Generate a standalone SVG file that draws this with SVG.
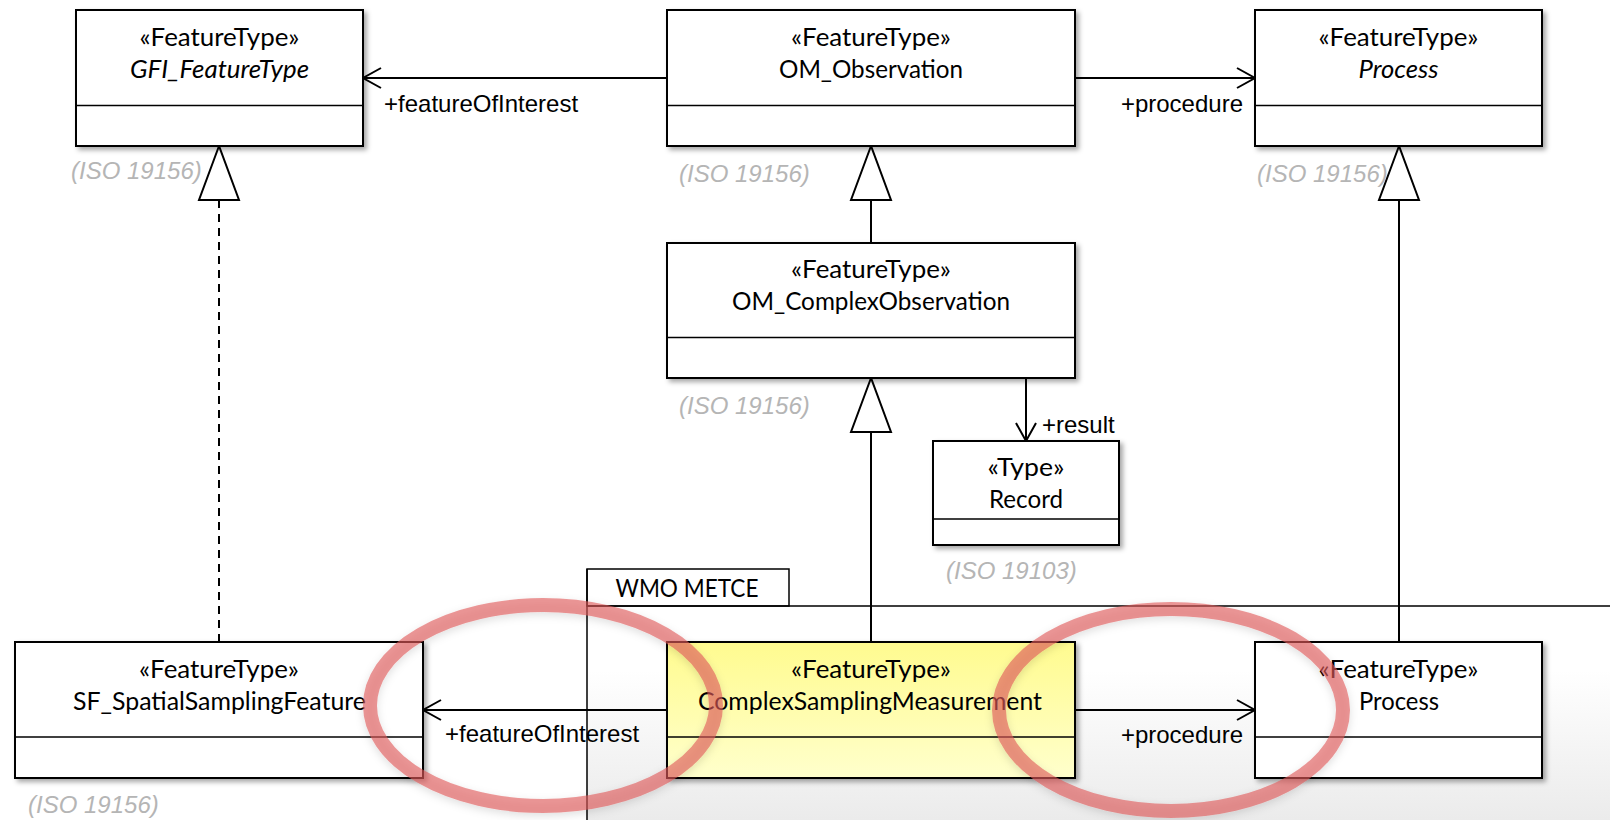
<svg xmlns="http://www.w3.org/2000/svg" width="1610" height="820" viewBox="0 0 1610 820">
<style>
.box{fill:#fff;stroke:#000;stroke-width:2}
.hl{fill:url(#yel);stroke:#000;stroke-width:2}
.div{stroke:#000;stroke-width:1.5}
.cls{font-family:Lato,"Liberation Sans",sans-serif;font-size:25px;text-anchor:middle;fill:#000}
.it{font-style:italic}
.lbl{font-family:"Liberation Sans",Arial,sans-serif;font-size:24px;fill:#000}
.end{text-anchor:end}
.iso{font-family:"Liberation Sans",Arial,sans-serif;font-size:24px;font-style:italic;fill:#b5b5b5}
.ln{stroke:#000;stroke-width:2;fill:none}
.dash{stroke-dasharray:8 6}
.pk{stroke:#000;stroke-width:1.5;fill:none}
.ell{fill:none;stroke:#e05a5a;stroke-opacity:0.62;stroke-width:14}
</style>
<defs>
<linearGradient id="yel" x1="0" y1="0" x2="0" y2="1">
<stop offset="0" stop-color="#fffb8f"/>
<stop offset="1" stop-color="#ffffcc"/>
</linearGradient>
<linearGradient id="pkbg" gradientUnits="userSpaceOnUse" x1="0" y1="606" x2="0" y2="820">
<stop offset="0" stop-color="#ffffff"/>
<stop offset="0.3" stop-color="#ffffff"/>
<stop offset="1" stop-color="#ebebeb"/>
</linearGradient>
<filter id="sh" x="-5%" y="-5%" width="115%" height="120%">
<feDropShadow dx="3" dy="3" stdDeviation="2.5" flood-color="#000" flood-opacity="0.35"/>
</filter>
<filter id="esh" x="-10%" y="-10%" width="120%" height="130%">
<feDropShadow dx="0" dy="3" stdDeviation="4" flood-color="#000" flood-opacity="0.2"/>
</filter>
<marker id="open" markerUnits="userSpaceOnUse" markerWidth="24" markerHeight="24" viewBox="-20 -12 24 24" refX="0" refY="0" orient="auto" overflow="visible">
<path d="M-18,-10 L0,0 L-18,10" fill="none" stroke="#000" stroke-width="2"/>
</marker>
<marker id="gen" markerUnits="userSpaceOnUse" markerWidth="60" markerHeight="44" viewBox="-56 -22 60 44" refX="0" refY="0" orient="auto" overflow="visible">
<path d="M0,0 L-54,-20 L-54,20 Z" fill="#fff" stroke="#000" stroke-width="2" stroke-dasharray="none"/>
</marker>
</defs>

<g id="package">
<rect x="587" y="606" width="1030" height="220" fill="url(#pkbg)"/>
<rect x="587" y="569" width="202" height="37" fill="#fff" class="pk"/>
<path class="pk" d="M587,569 V826 M587,606 H1615"/>
<text class="cls" x="687" y="597" textLength="143" lengthAdjust="spacingAndGlyphs">WMO METCE</text>
</g>

<g id="connectors">
<path class="ln" d="M667,78 H363" marker-end="url(#open)"/>
<text class="lbl" x="384" y="112">+featureOfInterest</text>
<path class="ln" d="M1075,78 H1255" marker-end="url(#open)"/>
<text class="lbl end" x="1243" y="112">+procedure</text>
<path class="ln" d="M871,243 V146" marker-end="url(#gen)"/>
<path class="ln" d="M871,642 V378" marker-end="url(#gen)"/>
<path class="ln" d="M1026,378 V441" marker-end="url(#open)"/>
<text class="lbl" x="1042" y="433">+result</text>
<path class="ln dash" d="M219,642 V146" marker-end="url(#gen)"/>
<path class="ln" d="M1399,642 V146" marker-end="url(#gen)"/>
<path class="ln" d="M667,710 H423" marker-end="url(#open)"/>
<text class="lbl" x="445" y="742">+featureOfInterest</text>
<path class="ln" d="M1075,710 H1255" marker-end="url(#open)"/>
<text class="lbl end" x="1243" y="743">+procedure</text>
</g>

<g id="gfi_featuretype">
<rect class="box" x="76" y="10" width="287" height="136" filter="url(#sh)"/>
<line class="div" x1="76" y1="105.5" x2="363" y2="105.5"/>
<text class="cls" x="219.5" y="46" textLength="160" lengthAdjust="spacingAndGlyphs">«FeatureType»</text>
<text class="cls it" x="219.5" y="78" textLength="179" lengthAdjust="spacingAndGlyphs">GFI_FeatureType</text>
<text class="iso" x="71" y="179">(ISO 19156)</text>
</g>

<g id="om_observation">
<rect class="box" x="667" y="10" width="408" height="136" filter="url(#sh)"/>
<line class="div" x1="667" y1="105.5" x2="1075" y2="105.5"/>
<text class="cls" x="871" y="46" textLength="160" lengthAdjust="spacingAndGlyphs">«FeatureType»</text>
<text class="cls" x="871" y="78" textLength="184" lengthAdjust="spacingAndGlyphs">OM_Observation</text>
<text class="iso" x="679" y="182">(ISO 19156)</text>
</g>

<g id="process_iso">
<rect class="box" x="1255" y="10" width="287" height="136" filter="url(#sh)"/>
<line class="div" x1="1255" y1="105.5" x2="1542" y2="105.5"/>
<text class="cls" x="1398.5" y="46" textLength="160" lengthAdjust="spacingAndGlyphs">«FeatureType»</text>
<text class="cls it" x="1398.5" y="78" textLength="80" lengthAdjust="spacingAndGlyphs">Process</text>
<text class="iso" x="1257" y="182">(ISO 19156)</text>
</g>

<g id="om_complexobservation">
<rect class="box" x="667" y="243" width="408" height="135" filter="url(#sh)"/>
<line class="div" x1="667" y1="337.5" x2="1075" y2="337.5"/>
<text class="cls" x="871" y="278" textLength="160" lengthAdjust="spacingAndGlyphs">«FeatureType»</text>
<text class="cls" x="871" y="310" textLength="278" lengthAdjust="spacingAndGlyphs">OM_ComplexObservation</text>
<text class="iso" x="679" y="414">(ISO 19156)</text>
</g>

<g id="record">
<rect class="box" x="933" y="441" width="186" height="104" filter="url(#sh)"/>
<line class="div" x1="933" y1="519" x2="1119" y2="519"/>
<text class="cls" x="1026" y="476" textLength="77" lengthAdjust="spacingAndGlyphs">«Type»</text>
<text class="cls" x="1026" y="508" textLength="74" lengthAdjust="spacingAndGlyphs">Record</text>
<text class="iso" x="946" y="579">(ISO 19103)</text>
</g>

<g id="sf_spatialsamplingfeature">
<rect class="box" x="15" y="642" width="408" height="136" filter="url(#sh)"/>
<line class="div" x1="15" y1="737" x2="423" y2="737"/>
<text class="cls" x="219" y="678" textLength="160" lengthAdjust="spacingAndGlyphs">«FeatureType»</text>
<text class="cls" x="219.5" y="710" textLength="293" lengthAdjust="spacingAndGlyphs">SF_SpatialSamplingFeature</text>
<text class="iso" x="28" y="813">(ISO 19156)</text>
</g>

<g id="complexsamplingmeasurement">
<rect class="hl" x="667" y="642" width="408" height="136" filter="url(#sh)"/>
<line class="div" x1="667" y1="737" x2="1075" y2="737"/>
<text class="cls" x="871" y="678" textLength="160" lengthAdjust="spacingAndGlyphs">«FeatureType»</text>
<text class="cls" x="870" y="710" textLength="344" lengthAdjust="spacingAndGlyphs">ComplexSamplingMeasurement</text>
</g>

<g id="process_metce">
<rect class="box" x="1255" y="642" width="287" height="136" filter="url(#sh)"/>
<line class="div" x1="1255" y1="737" x2="1542" y2="737"/>
<text class="cls" x="1398.5" y="678" textLength="160" lengthAdjust="spacingAndGlyphs">«FeatureType»</text>
<text class="cls" x="1399" y="710" textLength="80" lengthAdjust="spacingAndGlyphs">Process</text>
</g>

<g id="highlights" filter="url(#esh)">
<ellipse class="ell" cx="543" cy="705.5" rx="173" ry="100.5"/>
<ellipse class="ell" cx="1171" cy="710" rx="172" ry="101"/>
</g>
</svg>
